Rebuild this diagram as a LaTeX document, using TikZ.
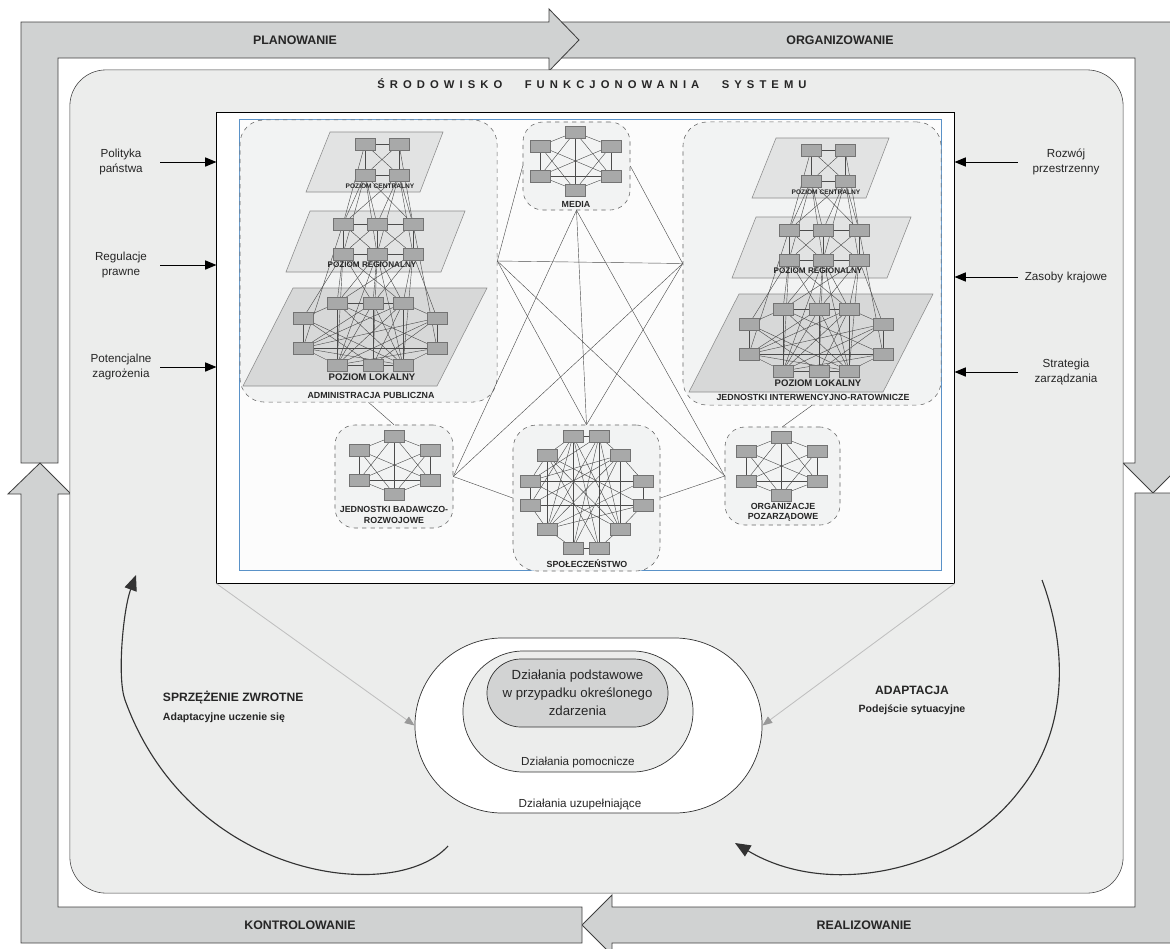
\documentclass[tikz,border=0pt]{standalone}
\usepackage{fontspec}
\setmainfont{Liberation Sans}
\usetikzlibrary{shapes.misc,arrows.meta}
\definecolor{bandgray}{HTML}{D0D2D2}
\definecolor{panelgray}{HTML}{ECEDEC}
\definecolor{groupgray}{HTML}{F2F3F3}
\definecolor{tiergray}{HTML}{E2E3E3}
\definecolor{localgray}{HTML}{D7D8D8}
\definecolor{unitgray}{HTML}{A8A9A9}
\definecolor{coregray}{HTML}{D2D3D3}
\definecolor{frameblue}{HTML}{5A92C8}
\pgfdeclarelayer{background}
\pgfdeclarelayer{edges}
\pgfsetlayers{background,edges,main}
\tikzstyle{band} = [draw=black!75, fill=bandgray, line width=0.6pt]
\tikzstyle{unit} = [rectangle, draw=black!55, fill=unitgray,
    minimum width=0.5cm, minimum height=0.29cm, inner sep=0pt]
\tikzstyle{link} = [draw=black!70, line width=0.3pt]
\tikzstyle{group} = [rectangle, draw=black!60, dashed, fill=groupgray,
    rounded corners=0.6cm, line width=0.4pt, inner sep=0pt]
\tikzstyle{tier} = [draw=black!45, fill=tiergray, line width=0.4pt]
\tikzstyle{tag} = [font=\fontsize{6.3}{7.3}\selectfont\bfseries, text=black!85,
    inner sep=0pt, align=center]
\tikzstyle{sidetext} = [font=\fontsize{8.3}{11}\selectfont, text=black!85,
    inner sep=0pt, align=center]
\tikzstyle{bandtext} = [font=\fontsize{8.8}{11}\selectfont\bfseries, text=black!85]
\tikzstyle{input} = [draw, line width=0.7pt, -{Triangle[length=8pt,width=6.5pt]}]
\tikzstyle{hint} = [draw=black!25, line width=0.6pt,
    -{Triangle[length=7pt,width=5.5pt,color=black!40]}]
\tikzstyle{loopline} = [draw=black!80, line width=0.8pt,
    -{Triangle[length=11pt,width=9pt]}]
\tikzstyle{ring} = [rounded rectangle, draw=black!80, line width=0.5pt, inner sep=0pt]

\begin{document}
\begin{tikzpicture}[x=0.025cm, y=-0.025cm]
  \useasboundingbox (0,0) rectangle (1170,948);

  \begin{pgfonlayer}{background}
    % rama z czterema strzalkami
    \path [band] (549,22) -- (1171,22) -- (1171,463) -- (1183,463) -- (1153,493)
       -- (1123,463) -- (1135,463) -- (1135,58) -- (549,58) -- cycle;
    \path [band] (21,463) -- (21,22) -- (549,22) -- (549,9) -- (579,40) -- (549,71)
       -- (549,58) -- (58,58) -- (58,463) -- cycle;
    \path [band] (1171,493) -- (1171,943) -- (612,943) -- (612,955) -- (582,925)
       -- (612,895) -- (612,907) -- (1135,907) -- (1135,493) -- cycle;
    \path [band] (582,907) -- (582,943) -- (21,943) -- (21,494) -- (8,494) -- (40,463)
       -- (71,494) -- (58,494) -- (58,907) -- cycle;
    \node [draw=black!75, fill=panelgray, rounded corners=0.9cm, minimum width=26.325cm,
       minimum height=20.575cm, inner sep=0pt] (env) at (596.5,481.5) {};
    \node [draw=black, fill=white, line width=0.7pt, minimum width=18.425cm,
       minimum height=11.75cm, inner sep=0pt] (scene) at (585.5,348) {};
    \node [draw=frameblue, fill=black!1, line width=0.5pt, minimum width=17.55cm,
       minimum height=11.275cm, inner sep=0pt] (canvas) at (590,344.5) {};
    % grupy
    \node [group, minimum width=6.425cm, minimum height=7.05cm] (admin) at (368.5,261) {};
    \node [group, minimum width=6.45cm, minimum height=7.075cm] (rescue) at (812,263.5) {};
    \node [group, minimum width=2.675cm, minimum height=2.2cm, rounded corners=0.5cm]
       (media) at (576.5,166) {};
    \node [group, minimum width=2.95cm, minimum height=2.575cm, rounded corners=0.5cm]
       (research) at (394,476.5) {};
    \node [group, minimum width=3.675cm, minimum height=3.65cm] (society) at (586.5,498) {};
    \node [group, minimum width=2.875cm, minimum height=2.45cm, rounded corners=0.5cm]
       (ngos) at (782.5,476) {};
  \end{pgfonlayer}

  % sieci trzypoziomowe
  \foreach \g/\dx/\dy in {adm/0/0, res/446/6} {
    \begin{scope}[shift={(\dx,\dy)}]
      \begin{pgfonlayer}{background}
        \path [tier] (330,132) -- (443,132) -- (420,192) -- (306,192) -- cycle;
        \path [tier] (310,211) -- (465,211) -- (441,272) -- (286,272) -- cycle;
        \path [tier, fill=localgray] (293,288) -- (487,288) -- (437,386) -- (243,386) -- cycle;
      \end{pgfonlayer}
      \foreach \n/\x/\y in {c1/365/144, c2/399/144, c3/365/175, c4/399/175,
          r1/343/224, r2/377/224, r3/413/224, r4/343/254, r5/377/254, r6/413/254,
          l1/337/303, l2/373/303, l3/403/303, l4/437/318, l5/437/348,
          l6/403/365, l7/373/365, l8/337/365, l9/303/348, l10/303/318}
        \node [unit] (\g\n) at (\x,\y) {};
      \begin{pgfonlayer}{edges}
        \foreach \a/\b in {c1/c2, c3/c4, c1/c3, c2/c4, c1/c4, c2/c3,
            c3/r1, c3/r2, c3/r3, c4/r1, c4/r2, c4/r3, c3/r5, c4/r5, c3/r4, c4/r6, c1/r1, c2/r3,
            r1/r2, r2/r3, r4/r5, r5/r6, r1/r4, r2/r5, r3/r6, r1/r5, r2/r4, r2/r6, r3/r5,
            r4/l10, r4/l1, r4/l2, r5/l1, r5/l2, r5/l3, r6/l3, r6/l4, r6/l2, r4/l8, r6/l6,
            r5/l7, r1/l9, r3/l5, r4/l3, r6/l1, r5/l6, r5/l8,
            l1/l2, l2/l3, l3/l4, l4/l5, l5/l6, l6/l7, l7/l8, l8/l9, l9/l10, l10/l1,
            l1/l8, l2/l7, l3/l6, l9/l5, l9/l2, l9/l3, l9/l4, l9/l6, l10/l6, l10/l7,
            l1/l5, l1/l6, l2/l6, l2/l8, l3/l8, l4/l8, l5/l8, l3/l7, l4/l7}
          \path [link] (\g\a) -- (\g\b);
      \end{pgfonlayer}
      \node [tag, font=\fontsize{4.7}{5}\selectfont\bfseries] (\g ctag) at (380,186)
         {POZIOM CENTRALNY};
      \node [tag, font=\fontsize{5.8}{6}\selectfont\bfseries] (\g rtag) at (372,265)
         {POZIOM REGIONALNY};
      \node [tag, font=\fontsize{6.8}{7}\selectfont\bfseries] (\g ltag) at (372,377)
         {POZIOM LOKALNY};
    \end{scope}
  }

  % sieci szesciowezlowe
  \foreach \g/\x/\y in {med/575/132, lab/394/436, npo/781/437} {
    \begin{scope}[shift={(\x,\y)}]
      \foreach \n/\u/\v in {1/0/0, 2/-35/14, 3/36/14, 4/-35/44, 5/36/44, 6/0/58}
        \node [unit] (\g\n) at (\u,\v) {};
      \begin{pgfonlayer}{edges}
        \foreach \a/\b in {1/2, 1/3, 1/4, 1/5, 1/6, 2/4, 3/5, 2/5, 3/4, 2/6, 3/6, 4/5, 4/6, 5/6}
          \path [link] (\g\a) -- (\g\b);
      \end{pgfonlayer}
    \end{scope}
  }

  % spoleczenstwo
  \foreach \n/\x/\y in {1/573/436, 2/599/436, 3/620/455, 4/643/481, 5/643/505, 6/620/529,
      7/599/548, 8/573/548, 9/547/529, 10/530/505, 11/530/481, 12/547/455}
    \node [unit] (soc\n) at (\x,\y) {};
  \begin{pgfonlayer}{edges}
    \foreach \a/\b in {1/2, 2/3, 3/4, 4/5, 5/6, 6/7, 7/8, 8/9, 9/10, 10/11, 11/12, 12/1,
        1/8, 2/7, 1/7, 2/8, 1/6, 1/9, 2/9, 2/6, 12/9, 3/6, 12/6, 3/9, 3/10, 3/11, 3/8,
        12/7, 9/4, 9/5, 11/4, 11/6, 10/5, 12/5, 1/10, 2/11}
      \path [link] (soc\a) -- (soc\b);
    % powiazania miedzy grupami
    \path [link] (admin.east) -- (rescue.west);
    \path [link] (admin.east) -- (media.west);
    \path [link] (admin.south) -- (research.north);
    \path [link] (admin.east) -- (society.north);
    \path [link] (admin.east) -- (ngos.west);
    \path [link] (rescue.west) -- (media.east);
    \path [link] (rescue.west) -- (research.east);
    \path [link] (rescue.west) -- (society.north);
    \path [link] (rescue.south) -- (ngos.north);
    \path [link] (media.south) -- (research.east);
    \path [link] (media.south) -- (society.north);
    \path [link] (media.south) -- (ngos.west);
    \path [link] (research.east) -- (society.west);
    \path [link] (society.east) -- (ngos.west);
  \end{pgfonlayer}

  \node [tag] (admintag) at (371,395) {ADMINISTRACJA PUBLICZNA};
  \node [tag] (rescuetag) at (813,397) {JEDNOSTKI INTERWENCYJNO-RATOWNICZE};
  \node [tag] (mediatag) at (576,204) {MEDIA};
  \node [tag] (researchtag) at (394,515) {JEDNOSTKI BADAWCZO-\\ROZWOJOWE};
  \node [tag] (societytag) at (587,564) {SPOŁECZEŃSTWO};
  \node [tag] (ngostag) at (783,512) {ORGANIZACJE\\POZARZĄDOWE};

  % napisy na ramie
  \node [bandtext] (plan) at (295,40) {PLANOWANIE};
  \node [bandtext] (organize) at (840,40) {ORGANIZOWANIE};
  \node [bandtext] (realize) at (864,925) {REALIZOWANIE};
  \node [bandtext] (control) at (300,925) {KONTROLOWANIE};
  \node [font=\fontsize{8}{10}\selectfont\bfseries\addfontfeature{LetterSpace=45},
     text=black!85] (title) at (592,84)
     {ŚRODOWISKO\hspace{16pt}FUNKCJONOWANIA\hspace{16pt}SYSTEMU};

  % czynniki zewnetrzne
  \node [sidetext, text width=1.6cm] (policy) at (121,162) {Polityka\\państwa};
  \node [sidetext, text width=1.6cm] (law) at (121,265) {Regulacje\\prawne};
  \node [sidetext, text width=1.6cm] (threats) at (121,367) {Potencjalne\\zagrożenia};
  \node [sidetext, text width=2.1cm] (spatial) at (1066,162) {Rozwój\\przestrzenny};
  \node [sidetext, text width=2.1cm] (resources) at (1066,277) {Zasoby krajowe};
  \node [sidetext, text width=2.1cm] (strategy) at (1066,372) {Strategia\\zarządzania};
  \path [input] ([xshift=0.175cm]policy.east) -- (policy -| scene.west);
  \path [input] ([xshift=0.175cm]law.east) -- (law -| scene.west);
  \path [input] ([xshift=0.175cm]threats.east) -- (threats -| scene.west);
  \path [input] ([xshift=-0.15cm]spatial.west) -- (spatial -| scene.east);
  \path [input] ([xshift=-0.15cm]resources.west) -- (resources -| scene.east);
  \path [input] ([xshift=-0.15cm]strategy.west) -- (strategy -| scene.east);

  % dzialania
  \node [ring, fill=white, minimum width=8.675cm, minimum height=4.375cm]
     (outer) at (588.5,725.5) {};
  \node [ring, fill=panelgray, minimum width=5.75cm, minimum height=3.025cm]
     (middle) at (578,711.5) {};
  \node [ring, fill=coregray, minimum width=4.525cm, minimum height=1.7cm, align=center,
     font=\fontsize{9.4}{12.8}\selectfont, text=black!85] (core) at (577.5,693)
     {Działania podstawowe\\w przypadku określonego\\zdarzenia};
  \node [sidetext] (support) at (578,762) {Działania pomocnicze};
  \node [sidetext] (extra) at (580,804) {Działania uzupełniające};
  \path [hint] (scene.south west) -- (outer.west);
  \path [hint] (scene.south east) -- (outer.east);

  % petle
  \coordinate (fbstart) at (448,846);
  \coordinate (fbend) at (136,575);
  \path [loopline] (fbstart) .. controls (395,905) and (190,880) .. (125,700)
     .. controls (117,678) and (123,610) .. (fbend);
  \coordinate (adstart) at (1042,580);
  \coordinate (adend) at (735,843);
  \path [loopline] (adstart) .. controls (1068,650) and (1068,730) .. (1020,790)
     .. controls (960,870) and (830,900) .. (adend);
  \node [anchor=west, font=\fontsize{8.6}{10}\selectfont\bfseries, text=black!85]
     (feedback) at (158,698) {SPRZĘŻENIE ZWROTNE};
  \node [anchor=west, font=\fontsize{7.5}{9}\selectfont\bfseries, text=black!85]
     (learning) at (158,718) {Adaptacyjne uczenie się};
  \node [font=\fontsize{8.6}{10}\selectfont\bfseries, text=black!85]
     (adapt) at (912,690) {ADAPTACJA};
  \node [font=\fontsize{7.5}{9}\selectfont\bfseries, text=black!85]
     (situation) at (912,710) {Podejście sytuacyjne};
\end{tikzpicture}
\end{document}
